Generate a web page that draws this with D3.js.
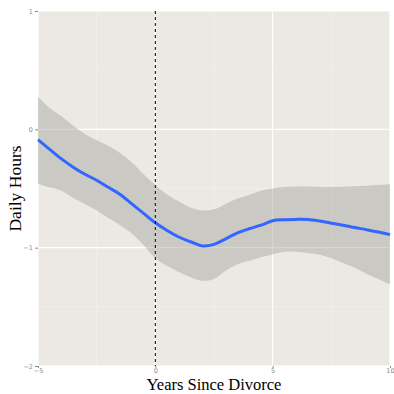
<!DOCTYPE html>
<html>
<head>
<meta charset="utf-8">
<script src="https://cdn.jsdelivr.net/npm/d3@7"></script>
<style>
  body { margin: 0; background: #fff; }
  .tick text { fill: #8a8a8a; font-family: "DejaVu Sans", sans-serif; font-size: 6.5px; }
  .tick line { stroke: #8a8a8a; }
  .domain { display: none; }
</style>
</head>
<body>
<script>
var years = [-5, -4.5, -4, -3.5, -3, -2.5, -2, -1.5, -1, -0.5, 0, 0.5, 1, 1.5, 2, 2.5,
  3, 3.5, 4, 4.5, 5, 5.5, 6, 6.5, 7, 7.5, 8, 8.5, 9, 9.5, 10];
var fit = [-0.087, -0.17, -0.25, -0.32, -0.38, -0.43, -0.49, -0.55, -0.63, -0.71, -0.79,
  -0.855, -0.91, -0.95, -0.985, -0.972, -0.925, -0.875, -0.84, -0.81, -0.772, -0.764,
  -0.761, -0.762, -0.775, -0.793, -0.81, -0.83, -0.848, -0.868, -0.89];
var upper = [0.273, 0.18, 0.11, 0.03, -0.04, -0.093, -0.14, -0.2, -0.28, -0.38, -0.47,
  -0.55, -0.61, -0.66, -0.685, -0.676, -0.63, -0.585, -0.555, -0.52, -0.5, -0.488,
  -0.483, -0.484, -0.487, -0.487, -0.485, -0.481, -0.476, -0.471, -0.465];
var lower = [-0.459, -0.49, -0.52, -0.58, -0.63, -0.685, -0.75, -0.81, -0.88, -0.98, -1.09,
  -1.155, -1.205, -1.25, -1.28, -1.265, -1.195, -1.14, -1.11, -1.08, -1.055, -1.035,
  -1.035, -1.045, -1.06, -1.09, -1.13, -1.17, -1.22, -1.265, -1.31];
var xTicks = [-5, 0, 5, 10];
var yTicks = [-2, -1, 0, 1];
var xMinor = [-2.5, 2.5, 7.5];
var yMinor = [-1.5, -0.5, 0.5];

var W = 394, H = 394;
var m = { left: 38, right: 4, top: 11, bottom: 28 };

var svg = d3.select("body").append("svg")
  .attr("width", W).attr("height", H);

var x = d3.scaleLinear().domain([-5, 10]).range([m.left, W - m.right]);
var y = d3.scaleLinear().domain([-2, 1]).range([H - m.bottom, m.top]);

// panel
svg.append("rect")
  .attr("x", m.left).attr("y", m.top)
  .attr("width", W - m.left - m.right).attr("height", H - m.top - m.bottom)
  .attr("fill", "#ebe9e1");

// minor grid
svg.selectAll(".xminor").data(xMinor).enter().append("line")
  .attr("x1", d => x(d)).attr("x2", d => x(d))
  .attr("y1", m.top).attr("y2", H - m.bottom)
  .attr("stroke", "#f4f3ee").attr("stroke-width", 0.6);
svg.selectAll(".yminor").data(yMinor).enter().append("line")
  .attr("y1", d => y(d)).attr("y2", d => y(d))
  .attr("x1", m.left).attr("x2", W - m.right)
  .attr("stroke", "#f4f3ee").attr("stroke-width", 0.6);

// major grid
svg.selectAll(".xmajor").data(xTicks).enter().append("line")
  .attr("x1", d => x(d)).attr("x2", d => x(d))
  .attr("y1", m.top).attr("y2", H - m.bottom)
  .attr("stroke", "#fff").attr("stroke-width", 1.1);
svg.selectAll(".ymajor").data(yTicks).enter().append("line")
  .attr("y1", d => y(d)).attr("y2", d => y(d))
  .attr("x1", m.left).attr("x2", W - m.right)
  .attr("stroke", "#fff").attr("stroke-width", 1.1);

// confidence ribbon
var pts = years.map((d, i) => ({ x: d, f: fit[i], lo: lower[i], hi: upper[i] }));
var area = d3.area()
  .x(d => x(d.x)).y0(d => y(d.lo)).y1(d => y(d.hi))
  .curve(d3.curveCatmullRom);
svg.append("path").datum(pts)
  .attr("d", area)
  .attr("fill", "#999999").attr("fill-opacity", 0.4);

// smooth line
var line = d3.line().x(d => x(d.x)).y(d => y(d.f)).curve(d3.curveCatmullRom);
svg.append("path").datum(pts)
  .attr("d", line)
  .attr("fill", "none").attr("stroke", "#3366ff").attr("stroke-width", 3);

// divorce marker
svg.append("line")
  .attr("x1", x(0)).attr("x2", x(0))
  .attr("y1", m.top).attr("y2", H - m.bottom)
  .attr("stroke", "#000").attr("stroke-width", 1).attr("stroke-dasharray", "3,3");

// axes
svg.append("g")
  .attr("transform", "translate(0," + (H - m.bottom) + ")")
  .call(d3.axisBottom(x).tickValues(xTicks).tickFormat(d3.format("d")).tickSize(2).tickPadding(0));
svg.append("g")
  .attr("transform", "translate(" + m.left + ",0)")
  .call(d3.axisLeft(y).tickValues(yTicks).tickFormat(d3.format("d")).tickSize(3).tickPadding(2));

// titles
svg.append("text")
  .attr("x", (m.left + W - m.right) / 2).attr("y", H - 4)
  .attr("text-anchor", "middle")
  .style("font-family", "'Liberation Serif', serif").style("font-size", "16.5px")
  .text("Years Since Divorce");
svg.append("text")
  .attr("transform", "translate(21," + ((m.top + H - m.bottom) / 2) + ") rotate(-90)")
  .attr("text-anchor", "middle")
  .style("font-family", "'Liberation Serif', serif").style("font-size", "17.5px")
  .text("Daily Hours");
</script>
</body>
</html>
